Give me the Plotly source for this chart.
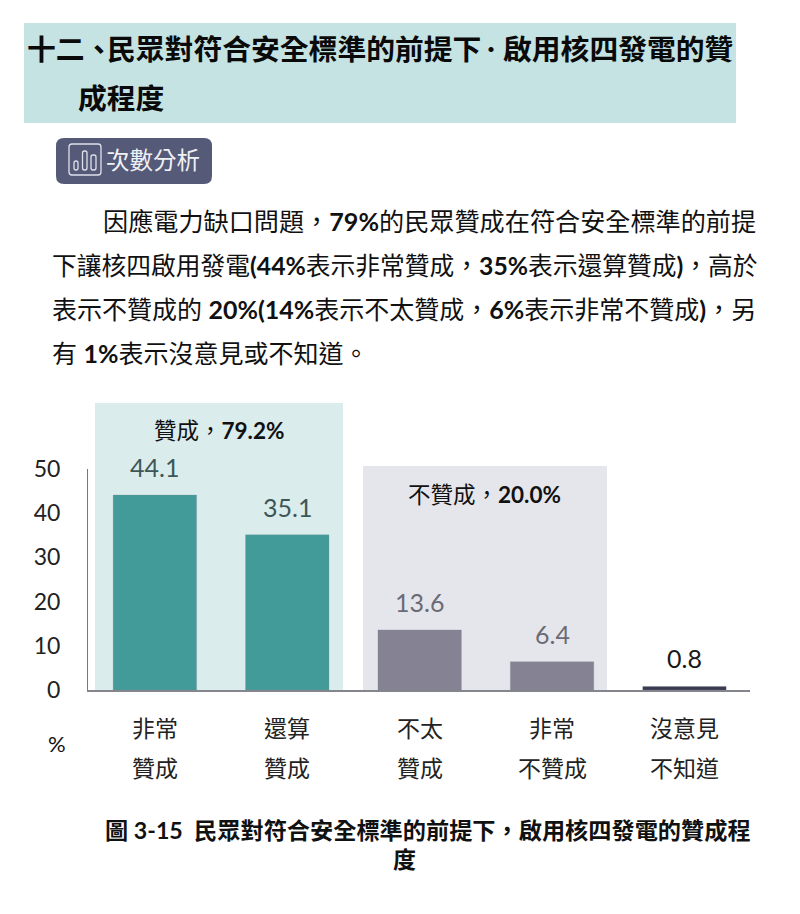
import plotly.graph_objects as go

W, H = 800, 914
PL, PR, PT, PB = 88, 750, 469, 690

categories = ["非常贊成", "還算贊成", "不太贊成", "非常不贊成", "沒意見不知道"]
values = [44.1, 35.1, 13.6, 6.4, 0.8]
labels_top = ["非常", "還算", "不太", "非常", "沒意見"]
labels_bot = ["贊成", "贊成", "贊成", "不贊成", "不知道"]
bar_colors = ["#429b99", "#429b99", "#858393", "#858393", "#3a3a50"]
label_colors = ["#3f5656", "#3f5656", "#6b6b75", "#6b6b75", "#1a1a1a"]
yticks = [0, 10, 20, 30, 40, 50]

FONT = "Lato, 'Noto Sans CJK TC', sans-serif"
CJK = "'Noto Sans CJK TC', sans-serif"


def px(x):
    return (x - PL) / (PR - PL)


def py(y):
    return (PB - y) / (PB - PT)


def text(x, y, s, size, color="#111", anchor="left", font=FONT):
    return dict(x=px(x), y=py(y), xref="paper", yref="paper", text=s, showarrow=False,
                xanchor=anchor, yanchor="middle", align=anchor,
                font=dict(size=size, color=color, family=font))


def rect(x0, y0, x1, y1, fill, line=None, layer="below", lw=1):
    return dict(type="rect", xref="paper", yref="paper", x0=px(x0), x1=px(x1), y0=py(y0), y1=py(y1),
                fillcolor=fill, line=dict(color=line, width=lw) if line else dict(width=0), layer=layer)


def rrect(x0, y0, x1, y1, r, fill, line=None, lw=1):
    X = lambda v: px(v)
    Y = lambda v: py(v)
    p = (f"M {X(x0+r)} {Y(y0)} L {X(x1-r)} {Y(y0)} Q {X(x1)} {Y(y0)} {X(x1)} {Y(y0+r)} "
         f"L {X(x1)} {Y(y1-r)} Q {X(x1)} {Y(y1)} {X(x1-r)} {Y(y1)} "
         f"L {X(x0+r)} {Y(y1)} Q {X(x0)} {Y(y1)} {X(x0)} {Y(y1-r)} "
         f"L {X(x0)} {Y(y0+r)} Q {X(x0)} {Y(y0)} {X(x0+r)} {Y(y0)} Z")
    return dict(type="path", xref="paper", yref="paper", path=p, fillcolor=fill,
                line=dict(color=line, width=lw) if line else dict(width=0), layer="above")


shapes = [
    rect(24, 23, 736, 123, "#c5e3e2"),
    rect(95, 403, 343, 690, "#daecec"),
    rect(363, 466, 607, 690, "#e5e6ec"),
    rrect(56, 138, 212, 184, 8, "#555a78"),
    rrect(69, 144, 101, 175, 3, "rgba(0,0,0,0)", "#dfe1ea", 1.3),
    rrect(74, 161, 78, 170, 2, "rgba(0,0,0,0)", "#dfe1ea", 1.3),
    rrect(82.5, 151, 87, 170, 2, "rgba(0,0,0,0)", "#dfe1ea", 1.3),
    rrect(91, 155, 96, 170, 2, "rgba(0,0,0,0)", "#dfe1ea", 1.3),
]

annotations = [
    text(25, 49, "<b>十二、</b>", 28.8, "#0a0a0a"),
    text(105, 49, "<b>民眾對符合安全標準的前提下</b>", 28.8, "#0a0a0a"),
    text(491, 49, "<b>‧</b>", 20, "#0a0a0a", anchor="center"),
    text(501, 49, "<b>啟用核四發電的贊</b>", 28.8, "#0a0a0a"),
    text(76, 98, "<b>成程度</b>", 28.8, "#0a0a0a"),
    text(104, 159, "次數分析", 23.5, "#f0f1f5", font=CJK),
    text(101, 221, "因應電力缺口問題，<b>79%</b>的民眾贊成在符合安全標準的前提", 25.15),
    text(50, 265, "下讓核四啟用發電<b>(44%</b>表示非常贊成，<b>35%</b>表示還算贊成<b>)</b>，高於", 24.75),
    text(50, 309, "表示不贊成的 <b>20%(14%</b>表示不太贊成，<b>6%</b>表示非常不贊成<b>)</b>，另", 25),
    text(50, 353, "有 <b>1%</b>表示沒意見或不知道。", 25),
    text(219, 430, "贊成，<b>79.2%</b>", 22.5, anchor="center"),
    text(485, 494, "不贊成，<b>20.0%</b>", 22.5, anchor="center"),
    text(57, 743, "%", 22, anchor="center"),
    text(103, 830, "<b>圖 3-15  民眾對符合安全標準的前提下，啟用核四發電的贊成程</b>", 23.2),
    text(404, 859, "<b>度</b>", 23, anchor="center"),
]

for i, (v, c) in enumerate(zip(values, label_colors)):
    annotations.append(dict(x=i, y=v, xref="x", yref="y", text=f"{v:.1f}", showarrow=False,
                            yshift=11, yanchor="bottom", font=dict(size=25, color=c, family=FONT)))
for i, (a, b) in enumerate(zip(labels_top, labels_bot)):
    annotations.append(dict(x=i, y=py(727), xref="x", yref="paper", text=a, showarrow=False,
                            yanchor="middle", font=dict(size=23, color="#222", family=CJK)))
    annotations.append(dict(x=i, y=py(767), xref="x", yref="paper", text=b, showarrow=False,
                            yanchor="middle", font=dict(size=23, color="#222", family=CJK)))

fig = go.Figure(go.Bar(x=list(range(len(values))), y=values, width=0.63,
                       marker=dict(color=bar_colors, line=dict(color="rgba(120,130,140,0.25)", width=1)),
                       hoverinfo="skip"))

fig.update_layout(
    width=W, height=H, autosize=False,
    margin=dict(l=PL, r=W - PR, t=PT, b=H - PB, pad=0),
    paper_bgcolor="white", plot_bgcolor="rgba(0,0,0,0)",
    showlegend=False, shapes=shapes, annotations=annotations,
    xaxis=dict(range=[-0.505, 4.495], showticklabels=False, showgrid=False, zeroline=False,
               showline=True, linecolor="#85858d", linewidth=1.5, ticks=""),
    yaxis=dict(range=[0, 50], tickvals=yticks, showgrid=False, zeroline=False, showline=True,
               linecolor="#77777f", linewidth=1, ticks="", ticklabelstandoff=22,
               tickfont=dict(size=23, color="#222", family=FONT)),
)

fig.write_html("out.html", config={"displayModeBar": False},
               post_script="document.body.style.margin='0';")
